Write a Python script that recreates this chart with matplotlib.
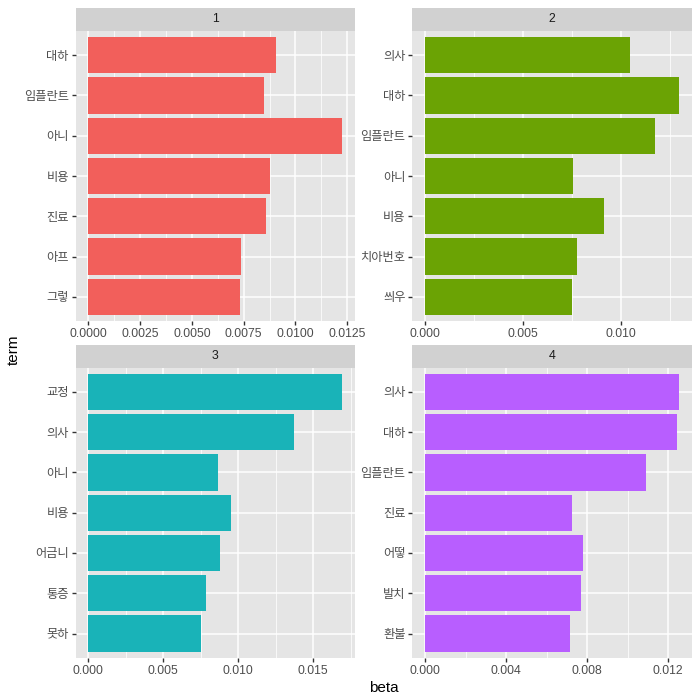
import matplotlib
matplotlib.use("Agg")
import matplotlib.pyplot as plt
from matplotlib.ticker import FixedLocator

plt.rcParams['font.family'] = ['Liberation Sans', 'Noto Sans CJK KR', 'DejaVu Sans']

topics = ["1", "2", "3", "4"]
terms1 = ["대하", "임플란트", "아니", "비용", "진료", "아프", "그렇"]
beta1 = [0.00904, 0.00846, 0.01226, 0.00875, 0.00856, 0.00736, 0.00731]
terms2 = ["의사", "대하", "임플란트", "아니", "비용", "치아번호", "씌우"]
beta2 = [0.01047, 0.01296, 0.01174, 0.00757, 0.00915, 0.00778, 0.00752]
terms3 = ["교정", "의사", "아니", "비용", "어금니", "통증", "못하"]
beta3 = [0.01694, 0.01375, 0.00864, 0.00950, 0.00877, 0.00784, 0.00751]
terms4 = ["의사", "대하", "임플란트", "진료", "어떻", "발치", "환불"]
beta4 = [0.01254, 0.01244, 0.01092, 0.00728, 0.00782, 0.00772, 0.00718]

major1 = [0.0, 0.0025, 0.005, 0.0075, 0.01, 0.0125]
minor1 = [0.00125, 0.00375, 0.00625, 0.00875, 0.01125]
major2 = [0.0, 0.005, 0.01]
minor2 = [0.0025, 0.0075, 0.0125]
major3 = [0.0, 0.005, 0.01, 0.015]
minor3 = [0.0025, 0.0075, 0.0125, 0.0175]
major4 = [0.0, 0.004, 0.008, 0.012]
minor4 = [0.002, 0.006, 0.010]
fmts = ["{:.4f}", "{:.3f}", "{:.3f}", "{:.3f}"]

colors = ["#F25F5B", "#6BA304", "#19B3B8", "#B85EFF"]

W = H = 700.0
# panel pixel boxes: left, top, right, bottom
boxes = [
    (75.7, 31.0, 355.0, 321.0),
    (412.3, 31.0, 691.7, 321.0),
    (75.7, 367.7, 355.0, 657.7),
    (412.3, 367.7, 691.7, 657.7),
]
strip_h = 23.0

fig = plt.figure(figsize=(7, 7), dpi=100)
fig.patch.set_facecolor("white")

data = [(terms1, beta1, major1, minor1), (terms2, beta2, major2, minor2),
        (terms3, beta3, major3, minor3), (terms4, beta4, major4, minor4)]

for i, ((terms, beta, maj, mnr), box) in enumerate(zip(data, boxes)):
    l, t, r, b = box
    ax = fig.add_axes([l / W, 1 - b / H, (r - l) / W, (b - t) / H])
    ax.set_facecolor("#E5E5E5")
    n = len(terms)
    ypos = list(range(n))
    mx = max(beta)
    ax.set_xlim(-0.05 * mx, 1.05 * mx)
    ax.set_ylim(n - 1 + 0.6, -0.6)
    ax.xaxis.set_major_locator(FixedLocator(maj))
    ax.xaxis.set_minor_locator(FixedLocator(mnr))
    ax.set_xticks(maj)
    ax.set_xticklabels([fmts[i].format(v) for v in maj])
    ax.set_yticks(ypos)
    ax.set_yticklabels(terms)
    ax.grid(which="major", color="white", linewidth=1.1)
    ax.grid(which="minor", axis="x", color="white", linewidth=0.55)
    ax.set_axisbelow(True)
    ax.barh(ypos, beta, height=0.9, color=colors[i], zorder=3)
    for s in ax.spines.values():
        s.set_visible(False)
    ax.tick_params(axis="both", which="major", length=2.75, width=1.0, color="#333333",
                   labelsize=8.8, labelcolor="#4D4D4D", pad=2.2)
    ax.tick_params(axis="x", which="minor", length=0)
    # strip
    sax = fig.add_axes([l / W, 1 - t / H, (r - l) / W, strip_h / H])
    sax.set_facecolor("#D1D1D1")
    sax.set_xticks([])
    sax.set_yticks([])
    for s in sax.spines.values():
        s.set_visible(False)
    sax.text(0.5, 0.5, topics[i], ha="center", va="center", fontsize=8.8,
             color="#1A1A1A", transform=sax.transAxes)

fig.text(14 / W, 1 - 350 / H, "term", rotation=90, ha="center", va="center",
         fontsize=11, color="black")
fig.text(383.7 / W, 1 - 688 / H, "beta", ha="center", va="center",
         fontsize=11, color="black")

fig.savefig("out.png", dpi=100)
